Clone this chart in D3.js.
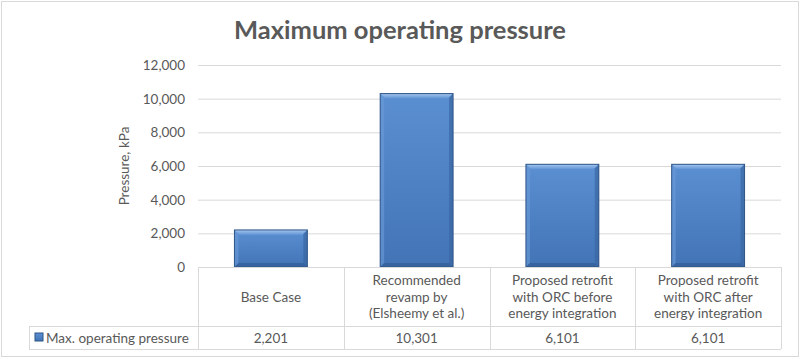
<!DOCTYPE html>
<html><head><meta charset="utf-8">
<script src="https://cdn.jsdelivr.net/npm/d3@7"></script>
<style>body{margin:0;background:#fff}svg{display:block}text{font-family:Lato,"Open Sans",sans-serif}</style>
</head><body><svg id="c" width="800" height="359"></svg>
<script>
const categories = [["Base Case"],["Recommended","revamp by","(Elsheemy et al.)"],["Proposed retrofit","with ORC before","energy integration"],["Proposed retrofit","with ORC after","energy integration"]];
const values = [2201, 10301, 6101, 6101];
const yTicks = [0,2000,4000,6000,8000,10000,12000];
const seriesName = "Max. operating pressure";
const title = "Maximum operating pressure";
const yTitle = "Pressure, kPa";

const svg = d3.select("#c");
const W=800,H=359;
const pLeft=198,pRight=781,pTop=65,pBottom=267;
const x = d3.scaleBand().domain(d3.range(values.length)).range([pLeft,pRight]).paddingInner(0).paddingOuter(0);
const y = d3.scaleLinear().domain([0,12000]).range([pBottom,pTop]);
const gray="#595959", line="#d9d9d9";

svg.append("rect").attr("x",1.5).attr("y",1.5).attr("width",W-3).attr("height",H-4).attr("fill","#fff").attr("stroke","#d9d9d9");

svg.append("text").attr("x",400).attr("y",39).attr("text-anchor","middle").attr("font-size",25.5).attr("font-weight","bold").attr("fill",gray).text(title);

svg.append("g").selectAll("line").data(yTicks.filter(d=>d>0)).join("line")
 .attr("x1",pLeft).attr("x2",pRight).attr("y1",d=>y(d)+0.5).attr("y2",d=>y(d)+0.5).attr("stroke",line);

const fmt=d3.format(",");
svg.append("g").selectAll("text").data(yTicks).join("text")
 .attr("x",185).attr("y",d=>y(d)+5).attr("text-anchor","end").attr("font-size",13.5).attr("fill",gray).text(d=>fmt(d));

svg.append("text").attr("transform",`translate(129,${(pTop+pBottom)/2}) rotate(-90)`).attr("text-anchor","middle").attr("font-size",13.5).attr("fill",gray).text(yTitle);

const defs=svg.append("defs");
const g1=defs.append("linearGradient").attr("id","gb").attr("x1",0).attr("x2",0).attr("y1",0).attr("y2",1);
g1.append("stop").attr("offset","0%").attr("stop-color","#5a8fd2");
g1.append("stop").attr("offset","100%").attr("stop-color","#4274b6");
const g2=defs.append("linearGradient").attr("id","gt").attr("x1",0).attr("x2",0).attr("y1",0).attr("y2",1);
g2.append("stop").attr("offset","0%").attr("stop-color","#a4c6ee");
g2.append("stop").attr("offset","100%").attr("stop-color","#5f93d4");

const bw = x.bandwidth()*0.5;
const bx = i => x(i)+x.bandwidth()/2-bw/2;
const bars = svg.append("g").selectAll("g").data(values).join("g");
bars.append("rect").attr("x",(d,i)=>bx(i)).attr("y",d=>y(d)).attr("width",bw).attr("height",d=>pBottom-y(d))
 .attr("fill","url(#gb)");
bars.append("path").attr("d",(d,i)=>{const x0=bx(i),x1=x0+bw,t=y(d),b=5;
  return `M${x0},${t}L${x1},${t}L${x1-b},${t+b}L${x0+b},${t+b}Z`;}).attr("fill","url(#gt)");
bars.append("path").attr("d",(d,i)=>{const x0=bx(i),t=y(d),b=4;
  return `M${x0},${t}L${x0+b},${t+b}L${x0+b},${pBottom-b}L${x0},${pBottom}Z`;}).attr("fill","#6a9bd8").attr("opacity",0.6);
bars.append("path").attr("d",(d,i)=>{const x0=bx(i),x1=x0+bw,t=y(d),b=4;
  return `M${x1},${t}L${x1},${pBottom}L${x1-b},${pBottom-b}L${x1-b},${t+b}Z`;}).attr("fill","#3a66a3").attr("opacity",0.7);
bars.append("path").attr("d",(d,i)=>{const x0=bx(i),x1=x0+bw,b=4;
  return `M${x0},${pBottom}L${x1},${pBottom}L${x1-b},${pBottom-b}L${x0+b},${pBottom-b}Z`;}).attr("fill","#34609a").attr("opacity",0.8);
bars.append("rect").attr("x",(d,i)=>bx(i)).attr("y",d=>y(d)).attr("width",bw).attr("height",d=>pBottom-y(d))
 .attr("fill","none").attr("stroke","#2f5486").attr("stroke-width",1);

const tTop=pBottom, hBot=326, dBot=349, legLeft=29;
const tg=svg.append("g").attr("stroke",line).attr("fill","none");
tg.append("line").attr("x1",pLeft).attr("x2",pRight).attr("y1",tTop+0.5).attr("y2",tTop+0.5);
tg.append("line").attr("x1",legLeft).attr("x2",pRight).attr("y1",hBot+0.5).attr("y2",hBot+0.5);
tg.append("line").attr("x1",legLeft).attr("x2",pRight).attr("y1",dBot+0.5).attr("y2",dBot+0.5);
tg.append("line").attr("x1",legLeft+0.5).attr("x2",legLeft+0.5).attr("y1",hBot).attr("y2",dBot);
tg.selectAll("line.v").data(d3.range(values.length+1)).join("line").attr("class","v")
 .attr("x1",i=>Math.round(i<values.length?x(i):pRight)+0.5).attr("x2",i=>Math.round(i<values.length?x(i):pRight)+0.5)
 .attr("y1",tTop).attr("y2",dBot);

const lh=16.5;
svg.append("g").selectAll("text").data(categories).join("text")
 .attr("text-anchor","middle").attr("font-size",13.5).attr("fill",gray)
 .each(function(lines,i){
   const cx=x(i)+x.bandwidth()/2, cy=(tTop+hBot)/2, y0=cy-(lines.length-1)*lh/2+5;
   d3.select(this).selectAll("tspan").data(lines).join("tspan").attr("x",cx).attr("y",(l,j)=>y0+j*lh).text(l=>l);
 });
svg.append("g").selectAll("text").data(values).join("text")
 .attr("x",(d,i)=>x(i)+x.bandwidth()/2).attr("y",(hBot+dBot)/2+5).attr("text-anchor","middle").attr("font-size",13.5).attr("fill",gray).text(d=>fmt(d));

svg.append("rect").attr("x",35).attr("y",333).attr("width",8).attr("height",8).attr("fill","url(#gb)").attr("stroke","#2f5486");
svg.append("text").attr("x",46).attr("y",(hBot+dBot)/2+5).attr("font-size",13.5).attr("fill",gray).text(seriesName);
</script></body></html>
